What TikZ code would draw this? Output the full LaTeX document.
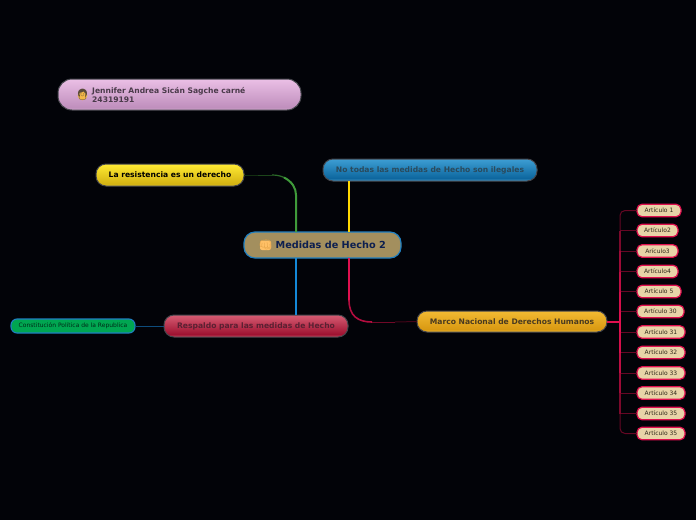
\documentclass[tikz,border=0pt]{standalone}
\usepackage{fontspec}
\setmainfont{DejaVu Sans}
\newfontfamily\emojifont{Noto Emoji}
\definecolor{bgc}{HTML}{020308}
\definecolor{edgeg}{HTML}{45464C}
\definecolor{crim}{HTML}{E0104F}
\definecolor{jentext}{HTML}{4A3A4A}
\definecolor{bluetext}{HTML}{2A4A5C}
\definecolor{redtext}{HTML}{5A2032}
\definecolor{marcotext}{HTML}{4A3A20}
\definecolor{centertext}{HTML}{0D1F4F}
\definecolor{centerblue}{HTML}{1F7FC0}
\definecolor{centerfill}{HTML}{A38F5E}
\definecolor{fistc}{HTML}{FFC066}
\definecolor{fistd}{HTML}{E0A045}
\definecolor{consfill}{HTML}{00A651}
\definecolor{constext}{HTML}{002A18}
\definecolor{greenc}{HTML}{3F9A3A}
\definecolor{yellowc}{HTML}{FFD800}
\definecolor{bluec}{HTML}{1488D8}
\definecolor{conline}{HTML}{0E4C7C}
\definecolor{artfill}{HTML}{E8D4A8}
\definecolor{arttext}{HTML}{2E2618}
\definecolor{faceC}{HTML}{F4B848}
\definecolor{hairC}{HTML}{5A4A3A}
\pgfdeclareverticalshading{pinkgr}{100bp}{rgb(0bp)=(0.84,0.69,0.83); rgb(25bp)=(0.84,0.69,0.83); rgb(29bp)=(0.75,0.56,0.74); rgb(75bp)=(0.92,0.75,0.90); rgb(100bp)=(0.92,0.75,0.90)}
\pgfdeclareverticalshading{yellowgr}{100bp}{rgb(0bp)=(0.9,0.8,0.2); rgb(25bp)=(0.9,0.8,0.2); rgb(30bp)=(0.83,0.70,0.07); rgb(75bp)=(1,0.92,0.2); rgb(100bp)=(1,0.92,0.2)}
\pgfdeclareverticalshading{bluegr}{100bp}{rgb(0bp)=(0.3,0.63,0.82); rgb(25bp)=(0.3,0.63,0.82); rgb(31bp)=(0.05,0.40,0.62); rgb(75bp)=(0.24,0.62,0.83); rgb(100bp)=(0.24,0.62,0.83)}
\pgfdeclareverticalshading{redgr}{100bp}{rgb(0bp)=(0.8,0.32,0.41); rgb(25bp)=(0.8,0.32,0.41); rgb(31bp)=(0.62,0.07,0.19); rgb(75bp)=(0.84,0.36,0.45); rgb(100bp)=(0.84,0.36,0.45)}
\pgfdeclareverticalshading{orangegr}{100bp}{rgb(0bp)=(0.94,0.75,0.25); rgb(25bp)=(0.94,0.75,0.25); rgb(31bp)=(0.85,0.60,0.07); rgb(75bp)=(0.95,0.73,0.2); rgb(100bp)=(0.95,0.73,0.2)}
\tikzset{
  pill/.style={rectangle,draw=edgeg,line width=1pt,inner sep=0pt,outer sep=0pt,shade,font=\fontsize{7.6}{9.5}\selectfont\bfseries},
  articlebox/.style={rectangle,draw=crim,line width=1.2pt,fill=artfill,inner sep=0pt,outer sep=0pt,rounded corners=5pt,minimum height=12.5pt,text=arttext,font=\fontsize{6}{7}\selectfont},
  branch/.style={line width=1pt,color=crim!45!black},
  trunkline/.style={line width=1.1pt},
}
\begin{document}
\begin{tikzpicture}[x=1pt,y=-1pt]
\useasboundingbox (0,0) rectangle (696,520);
\fill[bgc] (0,0) rectangle (696,520);

% nodes
\node[pill,shading=pinkgr,rounded corners=14pt,minimum width=243pt,minimum height=31pt] (jen) at (179.5,94.5) {};
\fill[faceC] (82.5,95.5) circle (4.8pt);
\node[anchor=center,inner sep=0pt,text=hairC,font=\fontsize{11}{11}\selectfont\emojifont] (jenicon) at (82.5,95) {👩};
\node[anchor=west,align=left,inner sep=0pt,text=jentext,font=\fontsize{7.6}{9.5}\selectfont\bfseries] (jentxt) at (92,95) {Jennifer Andrea Sicán Sagche carné\\24319191};
\node[pill,shading=yellowgr,rounded corners=10pt,minimum width=148pt,minimum height=22pt,text=black] (res) at (170,175) {\raisebox{-0.5pt}{La resistencia es un derecho}};
\node[pill,shading=bluegr,rounded corners=10pt,minimum width=214pt,minimum height=22pt,text=bluetext] (not) at (430,170) {\raisebox{-0.5pt}{No todas las medidas de Hecho son ilegales}};
\node[rectangle,draw=centerblue,fill=centerfill,line width=1.2pt,rounded corners=11pt,inner sep=0pt,outer sep=0pt,minimum width=157pt,minimum height=26pt] (cen) at (322.5,245) {};
\fill[fistc,rounded corners=2pt] (260,240.5) rectangle (271,250);
\node[inner sep=0pt,text=fistd,font=\fontsize{11}{11}\selectfont\emojifont] (fist) at (265.5,245) {👊};
\node[anchor=west,inner sep=0pt,text=centertext,font=\fontsize{9.7}{12}\selectfont\bfseries] (cent) at (275.5,245.3) {Medidas de Hecho 2};
\node[pill,shading=redgr,rounded corners=10pt,minimum width=184pt,minimum height=22pt,text=redtext] (res2) at (256,326) {\raisebox{-0.5pt}{Respaldo para las medidas de Hecho}};
\node[rectangle,draw=centerblue,fill=consfill,line width=1.1pt,rounded corners=6pt,inner sep=0pt,outer sep=0pt,minimum width=124pt,minimum height=14pt,text=constext,font=\fontsize{6}{7}\selectfont] (con) at (73,326) {Constitución Política de la Republica};
\node[pill,shading=orangegr,rounded corners=10pt,minimum width=190pt,minimum height=21pt,text=marcotext] (mar) at (512,321.5) {\raisebox{-0.5pt}{Marco Nacional de Derechos Humanos}};

% articles
\foreach \n/\y/\w/\t in {a1/210.5/44/Artículo 1,a2/230.5/41/Artículo2,a3/251/41/Arículo3,a4/271.5/41/Artículo4,a5/291.5/44/Artículo 5,a6/311.5/47/Artículo 30,a7/332/48/Artículo 31,a8/352.5/48/Artículo 32,a9/373/48/Artículo 33,a10/393/48/Artículo 34,a11/413.5/48/Artículo 35,a12/433.5/48/Artículo 35}{
  \node[articlebox,minimum width=\w pt,anchor=west] (\n) at (637,\y) {\raisebox{-0.4pt}{\t}};
}

% connectors
\coordinate (gA) at (258,175);
\coordinate (gB) at (272,175);
\coordinate (gC) at (284,177.5);
\draw[line width=1pt,color=greenc!30!black] (res.east) -- (gA);
\draw[line width=1pt,color=greenc!45!black] (gA) -- (gB);
\draw[line width=1.2pt,color=greenc!70!black] (gB) .. controls (277,175) and (281,176) .. (gC);
\draw[line width=2pt,color=greenc] (gC) .. controls (292,181.5) and (296,188) .. (296,195) -- (296,232);
\draw[line width=2.2pt,color=yellowc] (349,181) -- (349,232);
\draw[line width=2.2pt,color=bluec] (296,258) -- (296,315);
\draw[line width=1pt,color=conline] (con.east) -- (res2.west);
\coordinate (pA) at (349,300);
\coordinate (pB) at (372,322);
\coordinate (pC) at (395,322);
\draw[line width=2.2pt,color=crim] (349,258) -- (pA);
\draw[line width=1.6pt,color=crim!80!black] (pA) .. controls (349,316) and (358,322) .. (pB);
\draw[line width=1pt,color=crim!50!black] (pB) -- (pC);
\draw[line width=1pt,color=crim!30!black] (pC) -- (mar.west);

% trunk
\coordinate (tt) at (620,210.5);
\coordinate (tb) at (620,433.5);
\draw[line width=2pt,color=crim] (mar.east) -- (620,321.5);
\foreach \n in {a2,a3,a4,a5,a6,a7,a8,a9,a10,a11}{
  \draw[branch] (620,0 |- \n.west) -- (\n.west);
}
\draw[branch,rounded corners=5pt] (a1.west) -- (tt) -- (620,230.5);
\draw[branch,rounded corners=5pt] (a12.west) -- (tb) -- (620,413.5);
\foreach \ya/\yb/\m in {230.5/251/55,251/271.5/70,271.5/291.5/85,291.5/311.5/95,311.5/332/100,332/352.5/95,352.5/373/85,373/393/70,393/413.5/55}{
  \draw[trunkline,color=crim!\m!black] (620,\ya) -- (620,\yb);
}
\end{tikzpicture}
\end{document}
